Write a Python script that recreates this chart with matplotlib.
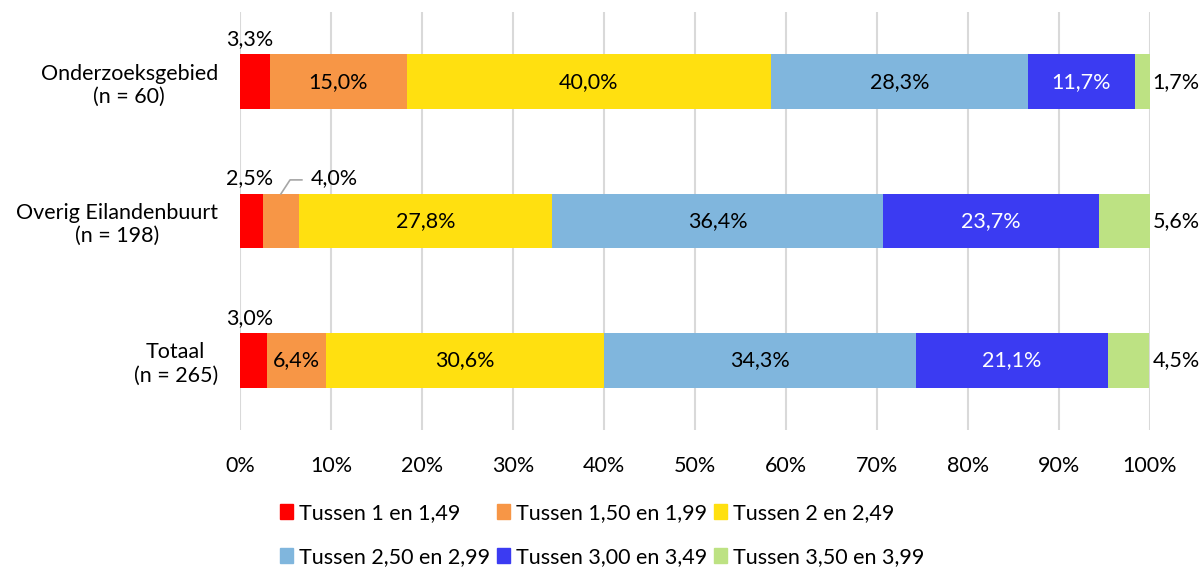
import matplotlib
matplotlib.use("Agg")
import matplotlib.pyplot as plt
import numpy as np
from matplotlib.patches import Patch

plt.rcParams['font.family'] = ['Lato', 'DejaVu Sans']

categories = ["Onderzoeksgebied\n(n = 60)", "Overig Eilandenbuurt\n(n = 198)", "Totaal\n(n = 265)"]
series = ["Tussen 1 en 1,49", "Tussen 1,50 en 1,99", "Tussen 2 en 2,49",
          "Tussen 2,50 en 2,99", "Tussen 3,00 en 3,49", "Tussen 3,50 en 3,99"]
values = [
    [3.3, 2.5, 3.0],
    [15.0, 4.0, 6.4],
    [40.0, 27.8, 30.6],
    [28.3, 36.4, 34.3],
    [11.7, 23.7, 21.1],
    [1.7, 5.6, 4.5],
]
colors = ["#FF0000", "#F79646", "#FFE010", "#80B6DD", "#3B3BF2", "#BDE283"]
text_colors = ["black", "black", "black", "black", "white", "black"]

fs = 15.5
fig = plt.figure(figsize=(12.01, 5.70), dpi=100)
ax = fig.add_axes([240/1201, 1-430/570, 910/1201, 418/570])

y = np.arange(len(categories))
h = 0.39
left = np.zeros(len(categories))
for i, (s, vals) in enumerate(zip(series, values)):
    vals = np.array(vals)
    ax.barh(y, vals, left=left, height=h, color=colors[i], label=s, zorder=3)
    for j, v in enumerate(vals):
        lab = f"{v:.1f}%".replace(".", ",")
        if i == 0:
            ax.text(left[j] + 1.1, y[j] - h/2 - 0.11, lab, ha='center', va='center',
                    fontsize=fs, color='black', zorder=4)
        elif i == len(series) - 1:
            ax.text(100.3, y[j], lab, ha='left', va='center', fontsize=fs,
                    color='black', zorder=4)
        elif i == 1 and v < 5:
            cx = left[j] + v/2
            ytop = y[j] - h/2
            ax.plot([cx, cx + 1.0, cx + 2.3], [ytop, ytop - 0.1, ytop - 0.1],
                    color='#A6A6A6', lw=1.2, zorder=4, clip_on=False)
            ax.text(cx + 5.9, ytop - 0.11, lab, ha='center', va='center',
                    fontsize=fs, color='black', zorder=4)
        else:
            ax.text(left[j] + v/2, y[j], lab, ha='center', va='center',
                    fontsize=fs, color=text_colors[i], zorder=4)
    left += vals

ax.set_xlim(0, 100)
ax.set_ylim(2.5, -0.5)
ax.set_xticks(np.arange(0, 101, 10))
ax.set_xticklabels([f"{t}%" for t in range(0, 101, 10)], fontsize=fs)
ax.set_yticks(y)
ax.set_yticklabels(categories, fontsize=fs, multialignment='center')
ax.tick_params(axis='both', length=0)
ax.tick_params(axis='x', pad=19)
ax.tick_params(axis='y', pad=16)
ax.grid(axis='x', color='#D9D9D9', lw=1.5, zorder=0)
for sp in ax.spines.values():
    sp.set_visible(False)

handles = [Patch(color=c, label=s) for c, s in zip(colors, series)]
order = [0, 3, 1, 4, 2, 5]
fig.legend([handles[k] for k in order], [series[k] for k in order], ncol=3,
           loc='upper center', bbox_to_anchor=(0.5015, 0.137), frameon=False,
           fontsize=fs, handlelength=0.6, handleheight=0.7, handletextpad=0.3,
           columnspacing=0.3, labelspacing=1.15, borderpad=0.0)

fig.savefig("out.png", dpi=100)
